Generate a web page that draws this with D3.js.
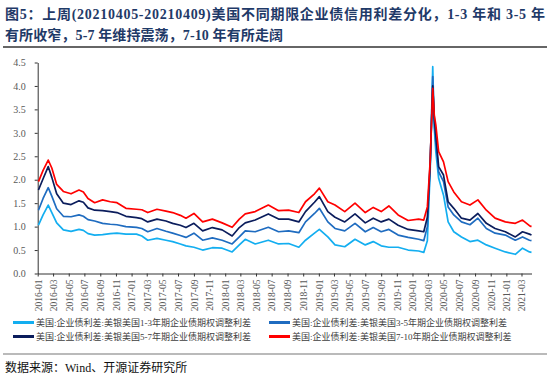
<!DOCTYPE html>
<html>
<head>
<meta charset="utf-8">
<script src="https://cdn.jsdelivr.net/npm/d3@7"></script>
<style>
  body { margin: 0; background: #fff; }
  svg { display: block; }
</style>
</head>
<body>
<div class="chart"></div>
<script>

// weekly-ish readings (%)
var dates = ["2016-01-04","2016-01-22","2016-02-11","2016-02-25","2016-03-15","2016-04-10","2016-05-10","2016-06-10",
  "2016-06-27","2016-07-15","2016-08-10","2016-09-10","2016-10-10","2016-11-05","2016-12-10","2017-01-20",
  "2017-02-10","2017-03-05","2017-04-10","2017-05-15","2017-06-10","2017-07-10","2017-08-01","2017-09-01",
  "2017-10-05","2017-11-12","2017-12-20","2018-01-28","2018-02-25","2018-03-20","2018-04-28","2018-06-18",
  "2018-07-28","2018-09-05","2018-10-15","2018-11-10","2018-12-15","2019-01-03","2019-02-05","2019-03-05",
  "2019-04-12","2019-05-22","2019-07-01","2019-08-01","2019-09-01","2019-10-01","2019-11-06","2019-12-15",
  "2020-01-25","2020-02-14","2020-02-28","2020-03-10","2020-03-20","2020-03-26","2020-04-01","2020-04-12",
  "2020-05-01","2020-05-19","2020-06-10","2020-07-10","2020-08-12","2020-09-12","2020-10-15","2020-11-18",
  "2020-12-28","2021-02-05","2021-03-05","2021-04-01","2021-04-09"];

var spread13 = [1.03,1.25,1.46,1.30,1.08,0.93,0.90,0.94,0.92,0.85,0.82,0.83,0.85,0.86,0.84,0.84,
  0.80,0.71,0.75,0.71,0.68,0.63,0.59,0.56,0.50,0.55,0.54,0.46,0.61,0.73,0.63,0.71,
  0.63,0.64,0.56,0.71,0.86,0.94,0.78,0.61,0.57,0.73,0.61,0.68,0.59,0.56,0.56,0.50,
  0.48,0.45,0.70,2.20,4.41,3.10,2.60,2.03,1.67,1.10,0.89,0.78,0.68,0.71,0.61,0.54,
  0.46,0.41,0.54,0.46,0.45];

var spread35 = [1.35,1.60,1.83,1.65,1.38,1.22,1.21,1.25,1.22,1.15,1.12,1.07,1.05,1.04,1.00,0.985,
  0.96,0.89,0.96,0.90,0.86,0.81,0.77,0.86,0.71,0.76,0.71,0.63,0.78,0.91,0.89,0.985,
  0.89,0.91,0.87,1.10,1.28,1.39,1.10,0.96,0.91,1.07,0.89,0.98,0.89,0.94,0.82,0.77,
  0.73,0.70,1.00,2.30,4.20,3.20,2.80,2.17,1.96,1.42,1.25,1.10,1.04,1.18,0.96,0.86,
  0.82,0.71,0.78,0.71,0.70];

var spread57 = [1.78,2.02,2.28,2.05,1.70,1.50,1.47,1.55,1.52,1.40,1.35,1.34,1.32,1.30,1.22,1.19,
  1.17,1.10,1.16,1.12,1.07,1.03,0.98,1.07,0.91,0.98,0.93,0.80,0.98,1.08,1.14,1.27,
  1.16,1.16,1.10,1.32,1.52,1.64,1.32,1.20,1.10,1.27,1.08,1.18,1.10,1.16,1.03,0.94,
  0.91,0.89,1.20,2.35,4.00,3.31,2.95,2.28,2.10,1.53,1.39,1.18,1.14,1.28,1.07,0.96,
  0.89,0.78,0.89,0.84,0.82];

var spread710 = [1.96,2.20,2.42,2.25,1.90,1.75,1.70,1.78,1.74,1.60,1.51,1.57,1.53,1.51,1.39,1.37,
  1.36,1.30,1.37,1.33,1.30,1.24,1.18,1.28,1.10,1.16,1.08,0.985,1.16,1.27,1.32,1.46,
  1.34,1.35,1.30,1.53,1.70,1.82,1.53,1.46,1.32,1.50,1.30,1.41,1.32,1.44,1.25,1.13,
  1.16,1.14,1.42,2.40,3.95,3.38,3.17,2.60,2.38,1.96,1.74,1.53,1.46,1.57,1.35,1.18,
  1.10,1.07,1.14,1.02,1.00];

var seriesNames = ["美国:企业债利差:美银美国1-3年期企业债期权调整利差",
  "美国:企业债利差:美银美国3-5年期企业债期权调整利差",
  "美国:企业债利差:美银美国5-7年期企业债期权调整利差",
  "美国:企业债利差:美银美国7-10年期企业债期权调整利差"];
var seriesColors = ["#13aef0", "#1f6cc0", "#0b1d5c", "#ff0000"];

var yTicks = [0, 0.5, 1.0, 1.5, 2.0, 2.5, 3.0, 3.5, 4.0, 4.5];
var xTickLabels = ["2016-01","2016-03","2016-05","2016-07","2016-09","2016-11",
  "2017-01","2017-03","2017-05","2017-07","2017-09","2017-11",
  "2018-01","2018-03","2018-05","2018-07","2018-09","2018-11",
  "2019-01","2019-03","2019-05","2019-07","2019-09","2019-11",
  "2020-01","2020-03","2020-05","2020-07","2020-09","2020-11",
  "2021-01","2021-03"];

var titleLines = ["图5：上周(20210405-20210409)美国不同期限企业债信用利差分化，1-3 年和 3-5 年",
  "有所收窄，5-7 年维持震荡，7-10 年有所走阔"];
var titleWidths = [540, 278];
var sourceText = "数据来源：Wind、开源证券研究所";

var W = 550, H = 377;
var plot = {left: 37.7, right: 531.5, top: 62.5, bottom: 273.5};
var serifFont = "'Times New Roman', 'Liberation Serif', 'Noto Sans CJK SC', serif";
var cjkFont = "'Liberation Serif', 'Noto Sans CJK SC', sans-serif";

var parseDate = d3.timeParse("%Y-%m-%d"),
    parseMonth = d3.timeParse("%Y-%m");

var svg = d3.select(".chart")
  .append("svg")
    .attr("width", W)
    .attr("height", H);

svg.append("rect")
  .attr("width", W)
  .attr("height", H)
  .attr("fill", "#fff");

// title
svg.selectAll(".title")
  .data(titleLines)
  .enter().append("text")
    .attr("class", "title")
    .attr("x", 5)
    .attr("y", function(d, i) { return 19 + i * 21; })
    .attr("textLength", function(d, i) { return titleWidths[i]; })
    .attr("lengthAdjust", "spacing")
    .style("font-family", cjkFont)
    .style("font-size", "14px")
    .style("font-weight", "bold")
    .style("fill", "#1f3a68")
    .text(function(d) { return d; });

svg.append("line")
  .attr("x1", 3).attr("x2", 547)
  .attr("y1", 47).attr("y2", 47)
  .style("stroke", "#333")
  .style("stroke-width", 1.5);

var x = d3.scaleTime()
  .domain([parseDate("2016-01-01"), parseDate("2021-04-09")])
  .range([plot.left, plot.right]);

var y = d3.scaleLinear()
  .domain([0, 4.5])
  .range([plot.bottom, plot.top]);

// y axis
var yAxis = svg.append("g")
  .attr("transform", "translate(" + plot.left + ",0)")
  .call(d3.axisLeft(y)
    .tickValues(yTicks)
    .tickFormat(d3.format(".1f"))
    .tickSize(3)
    .tickSizeOuter(0)
    .tickPadding(9));

yAxis.selectAll("text")
  .style("font-family", serifFont)
  .style("font-size", "10px")
  .style("fill", "#595959");

// x axis
var xAxis = svg.append("g")
  .attr("transform", "translate(0," + plot.bottom + ")")
  .call(d3.axisBottom(x)
    .tickValues(xTickLabels.map(function(s) { return parseMonth(s); }))
    .tickFormat(d3.timeFormat("%Y-%m"))
    .tickSize(3)
    .tickSizeOuter(0));

xAxis.selectAll("text")
  .attr("transform", "rotate(-90)")
  .attr("x", -6)
  .attr("y", 0)
  .attr("dy", "0.35em")
  .style("text-anchor", "end")
  .style("font-family", serifFont)
  .style("font-size", "9.5px")
  .style("fill", "#595959");

svg.selectAll(".domain, .tick line")
  .style("stroke", "#333")
  .style("stroke-width", 1);

// lines
var allSeries = [spread13, spread35, spread57, spread710];

var line = d3.line()
  .x(function(d) { return x(d.date); })
  .y(function(d) { return y(d.value); });

allSeries.forEach(function(values, k) {
  var pts = dates.map(function(s, i) {
    return {date: parseDate(s), value: values[i]};
  });
  svg.append("path")
    .datum(pts)
    .attr("class", "series")
    .attr("d", line)
    .style("fill", "none")
    .style("stroke", seriesColors[k])
    .style("stroke-width", 1.7)
    .style("stroke-linejoin", "round");
});

// legend, two columns
var legend = svg.selectAll(".legend")
  .data(seriesNames)
  .enter().append("g")
    .attr("class", "legend")
    .attr("transform", function(d, i) {
      var lx = (i % 2 === 0) ? 13 : 269,
          ly = (i < 2) ? 322.5 : 336.5;
      return "translate(" + lx + "," + ly + ")";
    });

legend.append("line")
  .attr("x1", 0).attr("x2", 21)
  .attr("y1", 0).attr("y2", 0)
  .style("stroke", function(d, i) { return seriesColors[i]; })
  .style("stroke-width", 3);

legend.append("text")
  .attr("x", 23)
  .attr("y", 0)
  .attr("dy", "0.35em")
  .style("font-family", cjkFont)
  .style("font-size", "9px")
  .style("fill", "#404040")
  .text(function(d) { return d; });

// source
svg.append("line")
  .attr("x1", 3).attr("x2", 547)
  .attr("y1", 354).attr("y2", 354)
  .style("stroke", "#777")
  .style("stroke-width", 1.2);

svg.append("text")
  .attr("x", 5)
  .attr("y", 372)
  .style("font-family", cjkFont)
  .style("font-size", "12px")
  .style("fill", "#111")
  .text(sourceText);

</script>
</body>
</html>
